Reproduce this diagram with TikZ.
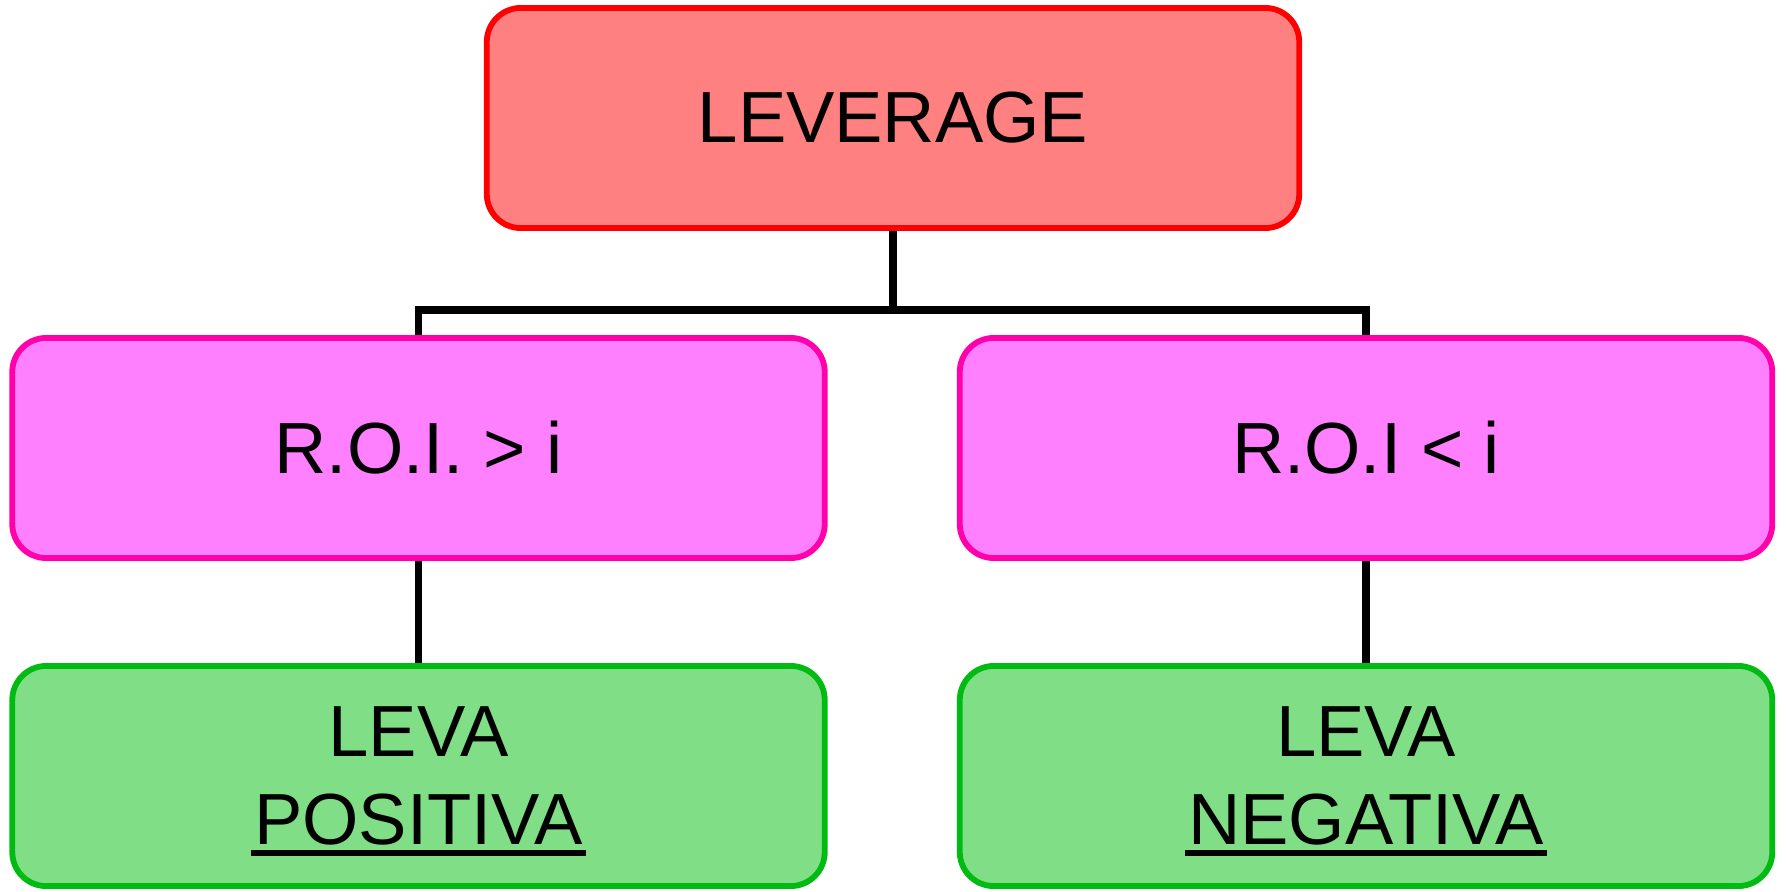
\documentclass[tikz,border=0pt]{standalone}
\usepackage{fontspec}
\setmainfont{Liberation Sans}
\usetikzlibrary{positioning}
\definecolor{rootfill}{HTML}{FF8080}
\definecolor{rootline}{HTML}{FF0000}
\definecolor{condfill}{HTML}{FF80FF}
\definecolor{condline}{HTML}{FF00AA}
\definecolor{resfill}{HTML}{80DE86}
\definecolor{resline}{HTML}{00BB11}
\newcommand{\ulbar}[1]{\setbox0\hbox{#1}\kern-.04em\rlap{\rule[-.155em]{\dimexpr\wd0+.08em\relax}{.08em}}\kern.04em\box0}
\tikzset{every node/.style={font=\fontsize{20.6pt}{25pt}\selectfont},
  box/.style={rectangle,rounded corners=.34cm,minimum width=8.12cm,minimum height=2.2cm,
    inner sep=0pt,align=center,line width=.058cm},
  rootbox/.style={box,draw=rootline,fill=rootfill},
  condbox/.style={box,draw=condline,fill=condfill},
  resbox/.style={box,draw=resline,fill=resfill,text depth=-.08cm},
  link/.style={draw=black,line width=.075cm}}

\begin{document}
\begin{tikzpicture}[x=.01cm,y=-.01cm]
\useasboundingbox (0,0) rectangle (1786,891);
\node[rootbox] (root) at (893,118) {LEVERAGE};
\node[condbox] (roiA) at (418.5,448) {R.O.I. > i};\node[condbox] (roiB) at (1366,448) {R.O.I < i};
\node[resbox] (levaA) at (418.5,776) {LEVA\\\ulbar{POSITIVA}};
\node[resbox] (levaB) at (1366,776) {LEVA\\\ulbar{NEGATIVA}};
\coordinate (split) at (893,310);
\draw[link] (root) -- (split);\draw[link] (roiA.north) |- (split) -| (roiB.north);
\draw[link] (roiA) -- (levaA);\draw[link] (roiB) -- (levaB);
\end{tikzpicture}
\end{document}
